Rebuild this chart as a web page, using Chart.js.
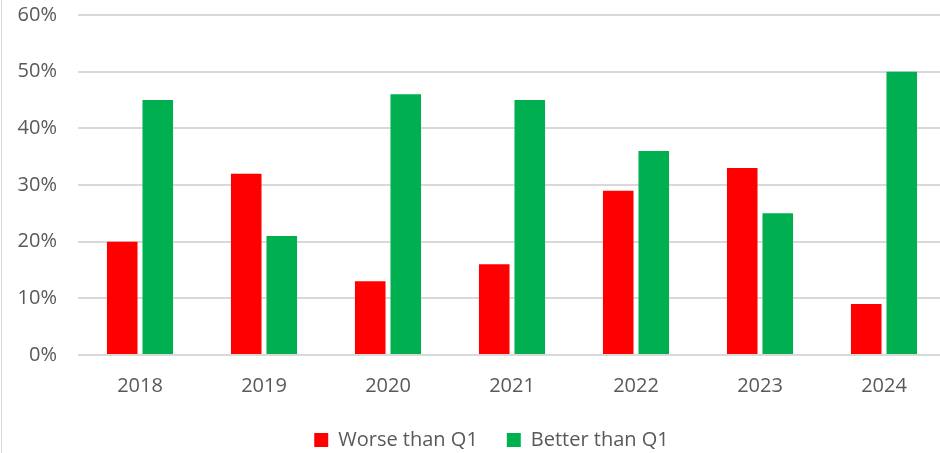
<!DOCTYPE html>
<html>
<head>
<meta charset="utf-8">
<script src="https://cdn.jsdelivr.net/npm/chart.js@4"></script>
<style>
  html, body { margin: 0; padding: 0; background: #fff; overflow: hidden; }
  #clip { position: relative; width: 940px; height: 453px; overflow: hidden; }
  /* canvas is a little larger than the window so the plot area lines up with the original */
  #wrap { position: absolute; left: 0; top: -18px; width: 946px; height: 495px; }
  #edge { position: absolute; left: 1px; top: 0; width: 1px; height: 453px; background: #d9d9d9; }
</style>
</head>
<body>
<div id="clip">
  <div id="wrap"><canvas id="barChart"></canvas></div>
  <div id="edge"></div>
</div>
<script>
const years = ['2018', '2019', '2020', '2021', '2022', '2023', '2024'];
const worse = [20, 32, 13, 16, 29, 33, 9];   // worse than Q1, %
const better = [45, 21, 46, 45, 36, 25, 50]; // better than Q1, %
const yTicks = [0, 10, 20, 30, 40, 50, 60];

const textColor = '#595959';
const fontFamily = '"Open Sans", "Liberation Sans", sans-serif';

// nudge the legend so it sits where the original one does
const legendShift = {
  id: 'legendShift',
  afterLayout (chart) {
    const lg = chart.legend;
    lg.left += 10; lg.right += 10;
    lg.top -= 16; lg.bottom -= 16;
  }
};

const ctx = document.getElementById('barChart').getContext('2d');
new Chart(ctx, {
  type: 'bar',
  data: {
    labels: years,
    datasets: [{
      label: 'Worse than Q1',
      data: worse,
      backgroundColor: '#ff0000',
      categoryPercentage: 0.573,
      barPercentage: 0.86
    }, {
      label: 'Better than Q1',
      data: better,
      backgroundColor: '#00b050',
      categoryPercentage: 0.573,
      barPercentage: 0.86
    }]
  },
  options: {
    responsive: true,
    maintainAspectRatio: false,
    animation: false,
    layout: { padding: { left: 17, top: 0, right: 0, bottom: 1 } },
    scales: {
      x: {
        grid: { display: false, drawTicks: false },
        border: { display: false },
        ticks: { color: textColor, font: { family: fontFamily, size: 20 }, padding: 19 }
      },
      y: {
        min: 0,
        max: 60,
        afterBuildTicks (axis) { axis.ticks = yTicks.map(v => ({ value: v })); },
        afterFit (axis) { axis.width = 61; },
        grid: { color: '#d9d9d9', lineWidth: 2, drawTicks: false },
        border: { display: false },
        ticks: {
          color: textColor,
          font: { family: fontFamily, size: 20 },
          padding: 21,
          callback: v => v + '%'
        }
      }
    },
    plugins: {
      legend: {
        position: 'bottom',
        labels: {
          color: textColor,
          font: { family: fontFamily, size: 20 },
          boxWidth: 14,
          boxHeight: 14,
          padding: 29
        }
      },
      tooltip: { enabled: false }
    }
  },
  plugins: [legendShift]
});
</script>
</body>
</html>
